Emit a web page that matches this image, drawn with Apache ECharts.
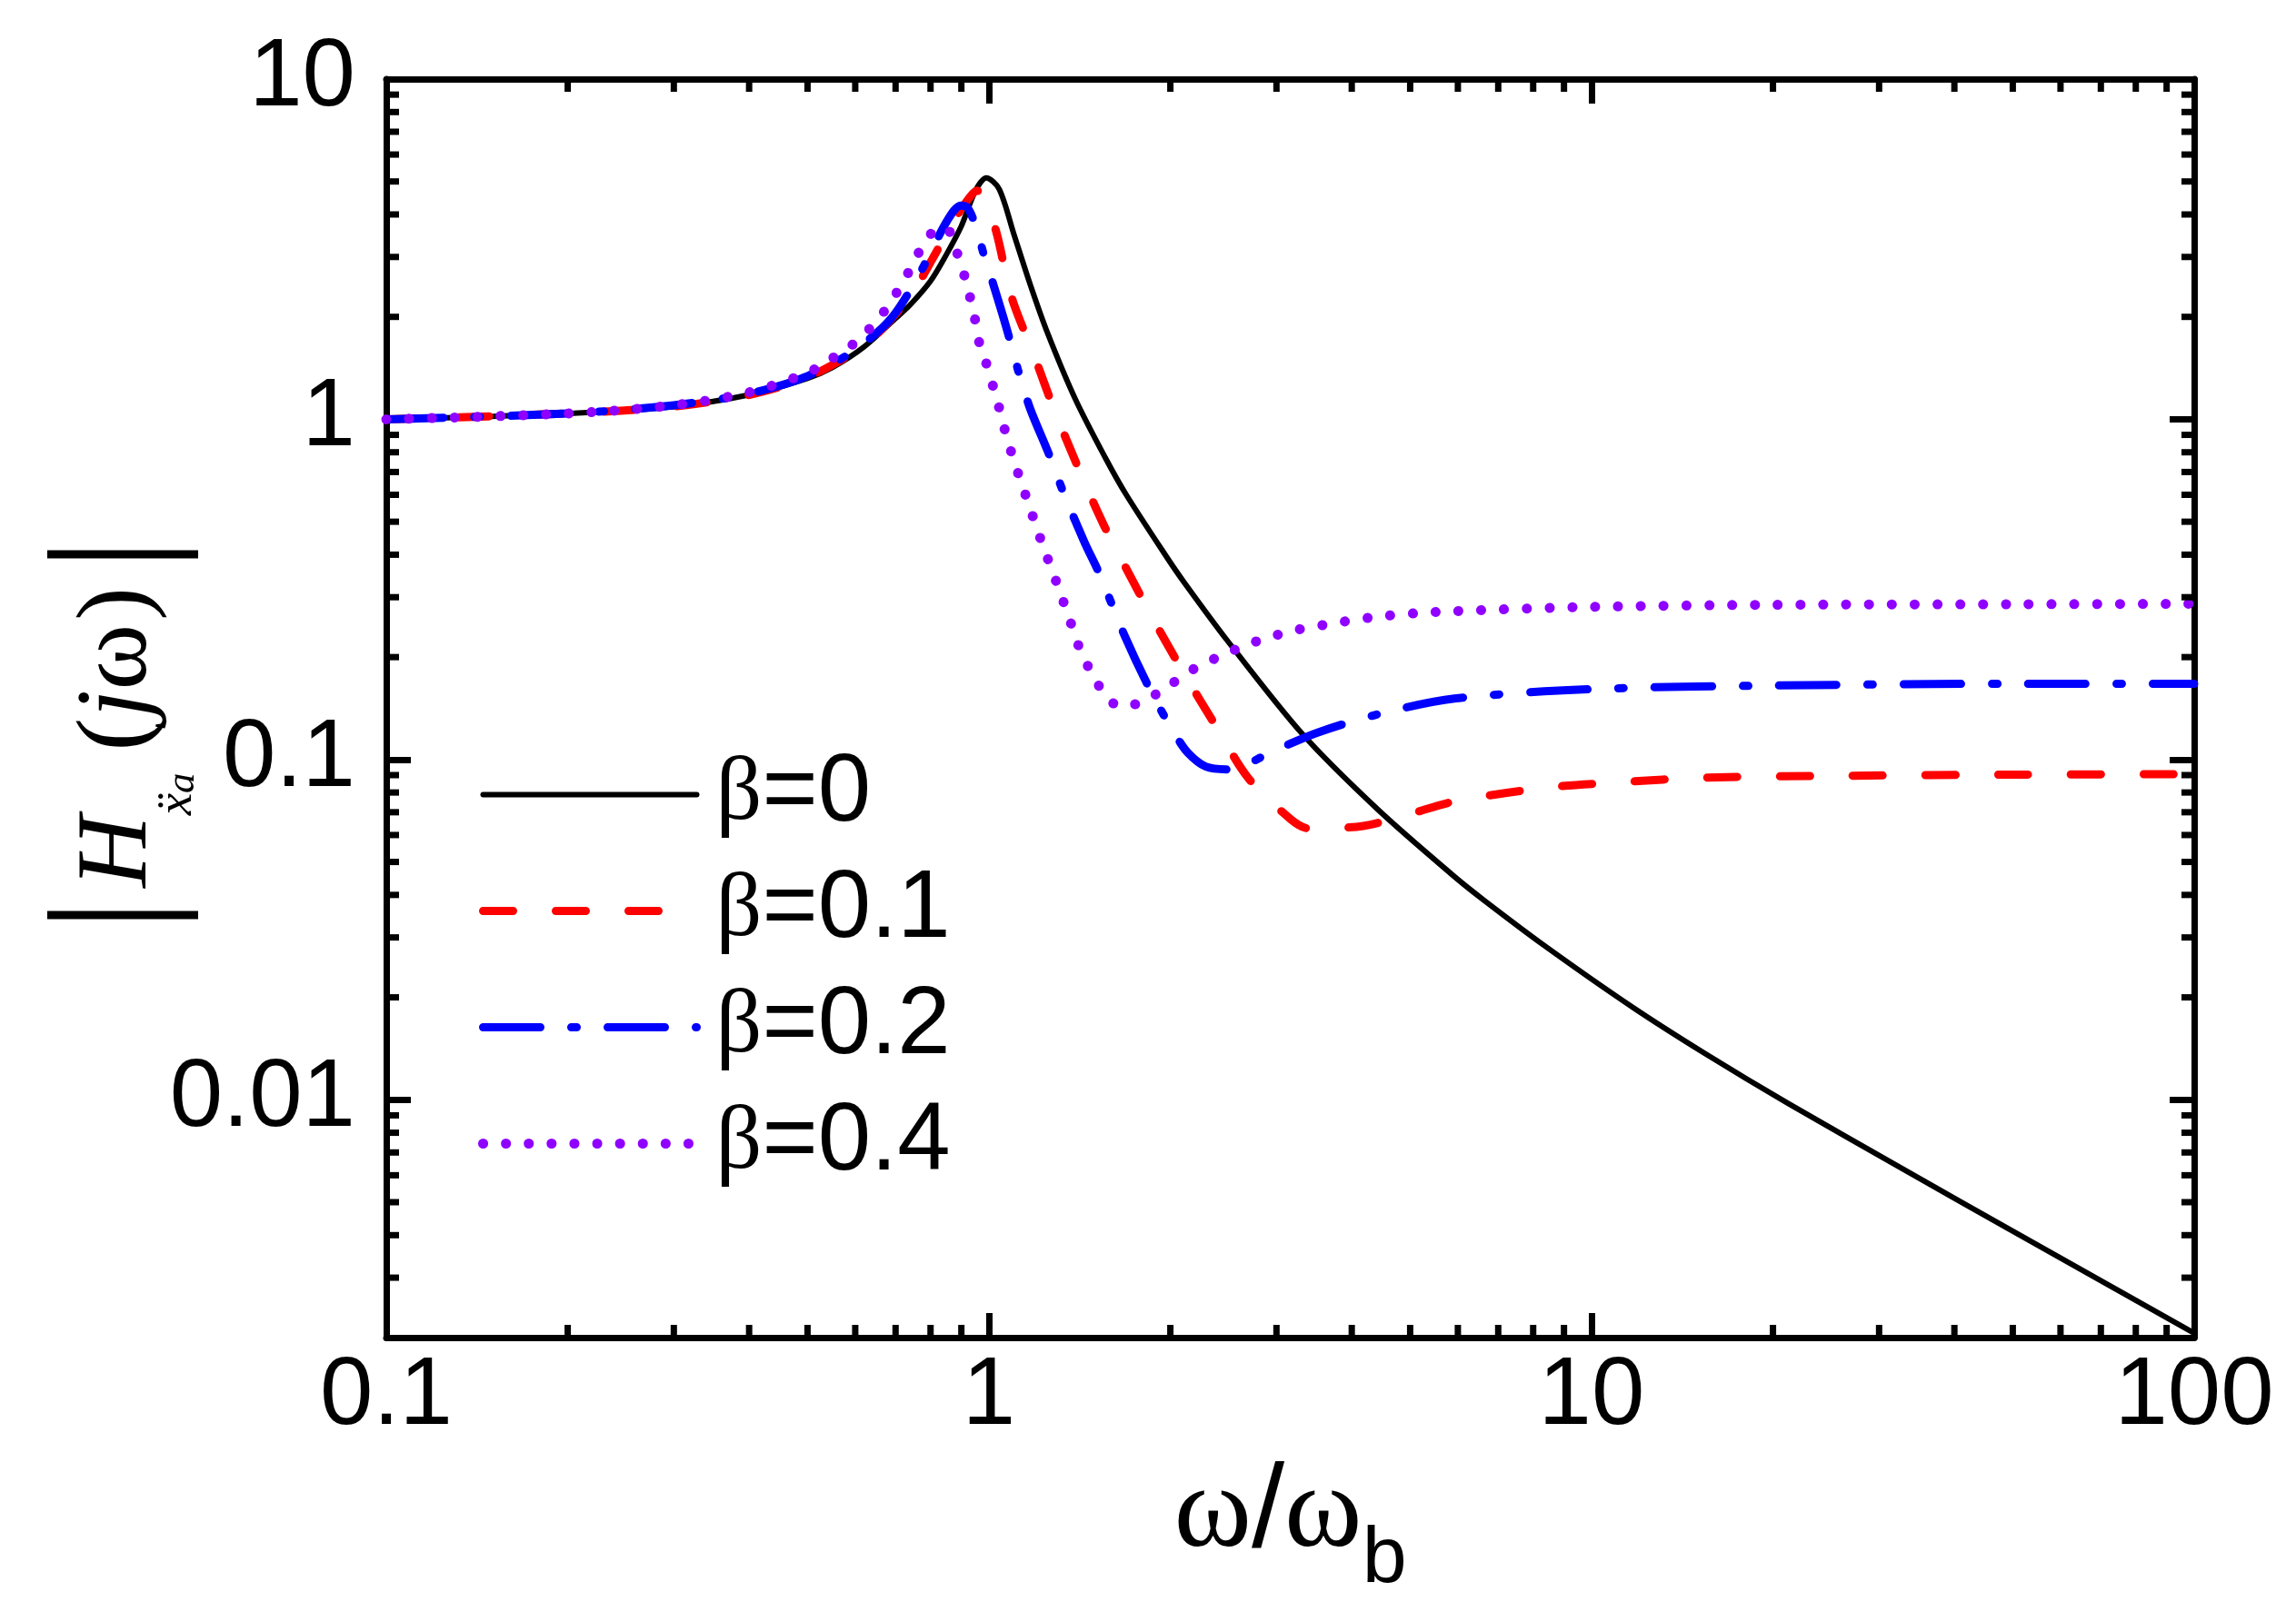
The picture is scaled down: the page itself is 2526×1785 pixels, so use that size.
<!DOCTYPE html>
<html>
<head>
<meta charset="UTF-8">
<title>|H(jω)| vs ω/ωb</title>
<style>
    html, body { margin: 0; padding: 0; background: #fff; }
    #chart { width: 2526px; height: 1785px; }
</style>
<script src="https://cdn.jsdelivr.net/npm/echarts@6/dist/echarts.min.js"></script>
</head>
<body>
<div id="chart"></div>
<script>
// values
const seriesNames = ['β=0', 'β=0.1', 'β=0.2', 'β=0.4'];

const omegaB0 = [0.1, 0.15, 0.2, 0.3, 0.4, 0.5, 0.55, 0.62, 0.7, 0.74, 0.8, 0.85, 0.9, 0.95, 0.99, 1.04, 1.1, 1.17, 1.25, 1.39, 1.56, 1.69, 1.97, 2.11, 2.48, 3.31, 4.43, 5.92, 6.64, 8.37, 11.7, 15.5, 21.2, 33.6, 50, 70, 100];
const magB0 = [1.0, 1.02, 1.04, 1.09, 1.18, 1.32, 1.42, 1.63, 1.98, 2.17, 2.55, 3.05, 3.7, 4.7, 5.12, 4.75, 3.5, 2.5, 1.8, 1.15, 0.771, 0.60, 0.395, 0.331, 0.225, 0.119, 0.071, 0.0453, 0.0385, 0.0283, 0.0187, 0.0136, 0.00975, 0.00612, 0.00411, 0.00294, 0.00206];

const omegaB1 = [0.1, 0.2, 0.3, 0.4, 0.5, 0.6, 0.64, 0.74, 0.83, 0.88, 0.93, 0.955, 0.985, 1.03, 1.09, 1.19, 1.28, 1.41, 1.55, 1.71, 1.9, 2.14, 2.38, 2.69, 3.17, 3.4, 4.18, 4.97, 5.92, 8.37, 11.1, 15.5, 26.6, 50, 100];
const magB1 = [1.0, 1.04, 1.09, 1.18, 1.33, 1.58, 1.72, 2.3, 3.25, 3.9, 4.5, 4.7, 4.45, 3.52, 2.29, 1.53, 1.08, 0.713, 0.49, 0.35, 0.247, 0.171, 0.1255, 0.0885, 0.0667, 0.0627, 0.0638, 0.069, 0.0753, 0.0826, 0.0857, 0.0885, 0.0896, 0.0903, 0.0906];

const omegaB2 = [0.1, 0.2, 0.3, 0.4, 0.5, 0.6, 0.69, 0.77, 0.853, 0.898, 0.92, 0.949, 0.983, 1.017, 1.068, 1.117, 1.17, 1.254, 1.33, 1.44, 1.527, 1.678, 1.862, 2.04, 2.14, 2.29, 2.51, 2.955, 3.51, 4.43, 5.92, 10, 20, 50, 100];
const magB2 = [1.0, 1.04, 1.1, 1.19, 1.34, 1.6, 1.99, 2.71, 3.84, 4.25, 4.2, 3.74, 3.0, 2.49, 1.87, 1.40, 1.077, 0.80, 0.608, 0.436, 0.35, 0.232, 0.157, 0.118, 0.1045, 0.0953, 0.0935, 0.1057, 0.120, 0.136, 0.151, 0.161, 0.165, 0.167, 0.167];

const omegaB4 = [0.1, 0.2, 0.3, 0.4, 0.5, 0.539, 0.592, 0.652, 0.70, 0.75, 0.776, 0.80, 0.846, 0.877, 0.892, 0.914, 0.93, 0.944, 0.957, 0.969, 0.99, 1.02, 1.04, 1.056, 1.08, 1.12, 1.17, 1.224, 1.30, 1.36, 1.425, 1.51, 1.565, 1.654, 1.80, 1.98, 2.18, 2.46, 2.77, 3.19, 3.71, 4.34, 5.09, 5.92, 10, 20, 50, 100];
const magB4 = [1.0, 1.04, 1.1, 1.2, 1.37, 1.48, 1.65, 1.95, 2.33, 2.88, 3.25, 3.5, 3.67, 3.29, 2.93, 2.59, 2.29, 2.04, 1.81, 1.60, 1.46, 1.22, 1.08, 0.97, 0.84, 0.687, 0.548, 0.434, 0.325, 0.259, 0.205, 0.169, 0.153, 0.143, 0.148, 0.164, 0.184, 0.204, 0.222, 0.239, 0.251, 0.262, 0.269, 0.273, 0.281, 0.285, 0.286, 0.287];

const xMinorTicks = [0.2, 0.3, 0.4, 0.5, 0.6, 0.7, 0.8, 0.9, 2, 3, 4, 5, 6, 7, 8, 9, 20, 30, 40, 50, 60, 70, 80, 90];
const yMinorTicks = [0.003, 0.004, 0.005, 0.006, 0.007, 0.008, 0.009, 0.02, 0.03, 0.04, 0.05, 0.06, 0.07, 0.08, 0.09, 0.2, 0.3, 0.4, 0.5, 0.6, 0.7, 0.8, 0.9, 2, 3, 4, 5, 6, 7, 8, 9];

function pairs(xs, ys) {
    return xs.map((x, i) => [x, ys[i]]);
}

// only 10^k gets a label
function decadeLabel(v) {
    const e = Math.log10(v);
    if (Math.abs(e - Math.round(e)) > 1e-6) return '';
    return String(Number(Math.pow(10, Math.round(e)).toPrecision(3)));
}

const black = '#000';
const tickStyle = { stroke: black, lineWidth: 7 };

function xMinorItem(params, api) {
    const cs = params.coordSys;
    const x = api.coord([api.value(0), 1])[0];
    const yb = cs.y + cs.height, yt = cs.y;
    return {
        type: 'group', silent: true,
        children: [
            { type: 'line', shape: { x1: x, y1: yb, x2: x, y2: yb - 14 }, style: tickStyle },
            { type: 'line', shape: { x1: x, y1: yt, x2: x, y2: yt + 14 }, style: tickStyle }
        ]
    };
}

function yMinorItem(params, api) {
    const cs = params.coordSys;
    const y = api.coord([1, api.value(1)])[1];
    const xl = cs.x, xr = cs.x + cs.width;
    return {
        type: 'group', silent: true,
        children: [
            { type: 'line', shape: { x1: xl, y1: y, x2: xl + 14, y2: y }, style: tickStyle },
            { type: 'line', shape: { x1: xr, y1: y, x2: xr - 14, y2: y }, style: tickStyle }
        ]
    };
}

function frameAxis(extra) {
    return Object.assign({
        type: 'log',
        logBase: 10,
        axisLine: { show: true, onZero: false, lineStyle: { color: black, width: 7 } },
        axisTick: { show: true, inside: true, length: 27, lineStyle: { color: black, width: 7 } },
        splitLine: { show: false },
        axisLabel: { show: false }
    }, extra);
}

const labelStyle = {
    show: true,
    fontFamily: 'Liberation Sans',
    fontSize: 105,
    color: black,
    formatter: decadeLabel
};

const chart = echarts.init(document.getElementById('chart'), null, { renderer: 'canvas' });

const option = {
    animation: false,
    backgroundColor: '#fff',
    grid: { left: 425, right: 112, top: 87, bottom: 313, containLabel: false, outerBoundsMode: 'none' },
    legend: {
        orient: 'vertical',
        left: 526,
        top: 822,
        padding: 0,
        itemWidth: 235,
        itemHeight: 30,
        itemGap: 23,
        selectedMode: false,
        data: seriesNames,
        itemStyle: { opacity: 0 },
        lineStyle: { width: 'inherit', type: 'inherit', cap: 'inherit', color: 'inherit' },
        formatter: n => n.replace('β', '{g|β}'),
        textStyle: {
            fontFamily: 'Liberation Sans',
            fontSize: 105,
            lineHeight: 105,
            color: black,
            padding: [0, 0, 0, 16],
            rich: {
                g: { fontFamily: 'Liberation Serif', fontSize: 100, lineHeight: 105, color: black }
            }
        }
    },
    xAxis: [
        frameAxis({
            position: 'bottom', min: 0.1, max: 100,
            axisLabel: Object.assign({ margin: 14 }, labelStyle),
            name: '{w|ω}{sl|/}{w|ω}{b|b}',
            nameLocation: 'middle',
            nameGap: 100,
            nameTextStyle: {
                color: black,
                rich: {
                    w: { fontFamily: 'Liberation Serif', fontSize: 130, color: black },
                    sl: { fontFamily: 'Liberation Sans', fontSize: 130, color: black },
                    b: { fontFamily: 'Liberation Sans', fontSize: 88, color: black, padding: [101, 0, 0, 0] }
                }
            }
        }),
        frameAxis({ position: 'top', min: 0.1, max: 100 })
    ],
    yAxis: [
        frameAxis({
            position: 'left', min: 0.002, max: 10,
            axisLabel: Object.assign({ margin: 34 }, labelStyle),
            name: '{bar||}{H|H}{s1|ẍ}{s2|a}{p|(}{j|j}{w|ω}{p2|)}{bar||}',
            nameLocation: 'middle',
            nameRotate: 90,
            nameGap: 201,
            nameMoveOverlap: false,
            nameTextStyle: {
                color: black,
                padding: [0, 58, 0, 0],
                rich: {
                    bar: { fontFamily: 'Liberation Serif', fontSize: 182, color: black },
                    H: { fontFamily: 'Liberation Serif', fontStyle: 'italic', fontSize: 110, color: black, padding: [0, 0, 0, 12] },
                    s1: { fontFamily: 'Liberation Serif, DejaVu Serif', fontStyle: 'italic', fontSize: 55, color: black, padding: [129, 0, 0, 0] },
                    s2: { fontFamily: 'Liberation Serif', fontStyle: 'italic', fontSize: 45, color: black, padding: [140, 0, 0, 0] },
                    p: { fontFamily: 'Liberation Serif', fontSize: 110, color: black, padding: [0, 0, 0, 24] },
                    j: { fontFamily: 'Liberation Serif', fontStyle: 'italic', fontSize: 110, color: black },
                    w: { fontFamily: 'Liberation Serif', fontSize: 110, color: black },
                    p2: { fontFamily: 'Liberation Serif', fontSize: 110, color: black, padding: [0, 18, 0, 4] }
                }
            }
        }),
        frameAxis({ position: 'right', min: 0.002, max: 10 })
    ],
    series: [
        {
            name: seriesNames[0], type: 'line', data: pairs(omegaB0, magB0),
            symbol: 'none', showSymbol: false, smooth: 0.3, z: 3,
            itemStyle: { color: '#000000' },
            lineStyle: { color: '#000000', width: 6, type: 'solid', cap: 'round', join: 'round' }
        },
        {
            name: seriesNames[1], type: 'line', data: pairs(omegaB1, magB1),
            symbol: 'none', showSymbol: false, smooth: 0.3, z: 4,
            itemStyle: { color: '#ff0000' },
            lineStyle: { color: '#ff0000', width: 9, type: [33, 47], cap: 'round', join: 'round' }
        },
        {
            name: seriesNames[2], type: 'line', data: pairs(omegaB2, magB2),
            symbol: 'none', showSymbol: false, smooth: 0.3, z: 5,
            itemStyle: { color: '#0000ff' },
            lineStyle: { color: '#0000ff', width: 9, type: [63, 34, 6, 34], cap: 'round', join: 'round' }
        },
        {
            name: seriesNames[3], type: 'line', data: pairs(omegaB4, magB4),
            symbol: 'none', showSymbol: false, smooth: 0.3, z: 6,
            itemStyle: { color: '#8f00ff' },
            lineStyle: { color: '#8f00ff', width: 11, type: [0.1, 25], cap: 'round', join: 'round' }
        },
        {
            type: 'custom', renderItem: xMinorItem, clip: false, silent: true, z: 10,
            data: xMinorTicks.map(v => [v, 1])
        },
        {
            type: 'custom', renderItem: yMinorItem, clip: false, silent: true, z: 10,
            data: yMinorTicks.map(v => [1, v])
        }
    ]
};

chart.setOption(option);
</script>
</body>
</html>
